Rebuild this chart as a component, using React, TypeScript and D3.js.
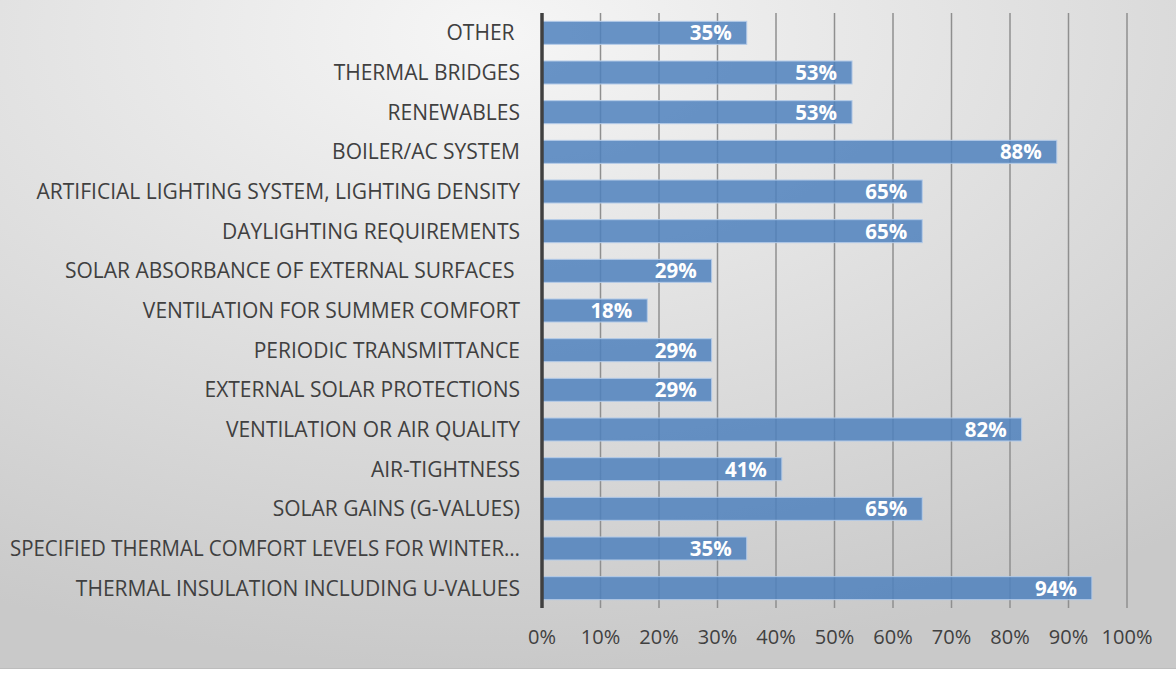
import React from "react"
import * as d3 from "d3"

const categories = [
  "OTHER ",
  "THERMAL BRIDGES",
  "RENEWABLES",
  "BOILER/AC SYSTEM",
  "ARTIFICIAL LIGHTING SYSTEM, LIGHTING DENSITY",
  "DAYLIGHTING REQUIREMENTS",
  "SOLAR ABSORBANCE OF EXTERNAL SURFACES ",
  "VENTILATION FOR SUMMER COMFORT",
  "PERIODIC TRANSMITTANCE",
  "EXTERNAL SOLAR PROTECTIONS",
  "VENTILATION OR AIR QUALITY",
  "AIR-TIGHTNESS",
  "SOLAR GAINS (G-VALUES)",
  "SPECIFIED THERMAL COMFORT LEVELS FOR WINTER…",
  "THERMAL INSULATION INCLUDING U-VALUES",
]
const values = [0.35, 0.53, 0.53, 0.88, 0.65, 0.65, 0.29, 0.18, 0.29, 0.29, 0.82, 0.41, 0.65, 0.35, 0.94]
const ticks = [0, 0.1, 0.2, 0.3, 0.4, 0.5, 0.6, 0.7, 0.8, 0.9, 1]

const W = 1176
const H = 675
const font = "'Open Sans', sans-serif"
const LABEL_RIGHT = 520
const LABEL_MAX = 510

export default function App() {
  const labelsRef = React.useRef<SVGGElement>(null)
  const x = d3.scaleLinear().domain([0, 1]).range([542, 1127])
  const y = d3.scaleBand().domain(categories).range([13, 608]).paddingInner(0.42).paddingOuter(0.21)
  const fmt = d3.format(".0%")

  // squeeze any label too wide for the left margin
  React.useEffect(() => {
    d3.select(labelsRef.current)
      .selectAll<SVGTextElement, unknown>("text")
      .each(function () {
        if (this.getComputedTextLength() > LABEL_MAX) {
          this.setAttribute("textLength", String(LABEL_MAX))
          this.setAttribute("lengthAdjust", "spacingAndGlyphs")
        }
      })
  }, [])

  return (
    <svg width={W} height={H} style={{ position: "absolute", left: 0, top: 0 }}>
      <defs>
        <radialGradient id="bg" cx="0.42" cy="0.05" r="0.95" gradientUnits="objectBoundingBox">
          <stop offset="0" stopColor="#f6f6f6" />
          <stop offset="1" stopColor="#c9c9c9" />
        </radialGradient>
      </defs>
      <rect x={0} y={0} width={W} height={H} fill="#fff" />
      <rect x={0} y={0} width={W} height={668} fill="url(#bg)" />
      <line x1={0} x2={W} y1={668.5} y2={668.5} stroke="#bdbdbd" strokeWidth={1} />

      {ticks.slice(1).map(t => (
        <line key={t} x1={x(t)} x2={x(t)} y1={13} y2={608} stroke="#8f8f8f" strokeWidth={1.5} />
      ))}

      {categories.map((c, i) => (
        <g key={c}>
          <rect
            x={x(0)}
            y={y(c)}
            width={x(values[i]) - x(0)}
            height={y.bandwidth()}
            fill="#4f81bd"
            fillOpacity={0.85}
            stroke="#b4cbe8"
            strokeWidth={1}
          />
          <text
            x={x(values[i]) - 15}
            y={y(c)! + y.bandwidth() / 2}
            dy="0.36em"
            textAnchor="end"
            fill="#fff"
            fontFamily={font}
            fontWeight="bold"
            fontSize={20.5}
          >
            {fmt(values[i])}
          </text>
        </g>
      ))}

      <g ref={labelsRef}>
        {categories.map(c => (
          <text
            key={c}
            x={LABEL_RIGHT}
            y={y(c)! + y.bandwidth() / 2}
            dy="0.36em"
            textAnchor="end"
            fill="#404040"
            fontFamily={font}
            fontSize={21}
            style={{ whiteSpace: "pre" }}
          >
            {c}
          </text>
        ))}
      </g>

      <line x1={x(0)} x2={x(0)} y1={13} y2={608} stroke="#404040" strokeWidth={3.5} />

      {ticks.map(t => (
        <text
          key={t}
          x={x(t)}
          y={637}
          dy="0.36em"
          textAnchor="middle"
          fill="#404040"
          fontFamily={font}
          fontSize={20}
        >
          {fmt(t)}
        </text>
      ))}
    </svg>
  )
}
